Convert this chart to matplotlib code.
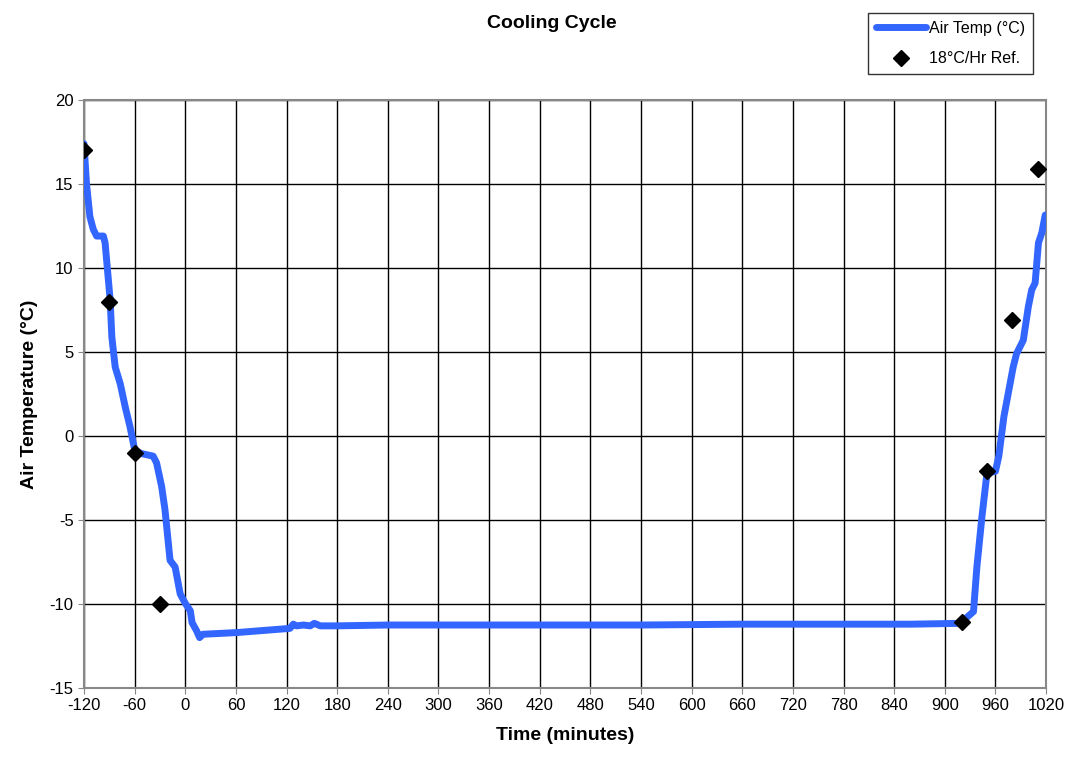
import numpy as np
import matplotlib.pyplot as plt

plt.rcParams['font.family'] = ['Liberation Sans', 'DejaVu Sans']
plt.rcParams['axes.unicode_minus'] = False

# Air temperature trace (minutes, deg C)
time_min = [-120, -117, -113, -109, -105, -97, -95, -89, -87, -83, -77,
            -71, -65.5, -59.6, -51.6, -38, -34, -28, -24, -18, -12, -6, 0, 6, 8,
            13.5, 17, 21, 61, 124, 128, 132, 140, 148, 153, 160, 180, 240, 300,
            420, 540, 660, 780, 860, 918, 934, 938, 944, 950, 960, 964, 970, 981,
            985, 993, 999, 1003, 1007, 1011, 1015, 1019]
air_temp = [17.4, 15.0, 13.05, 12.3, 11.9, 11.9, 11.5, 8.1, 5.9, 4.1, 3.1,
            1.7, 0.56, -0.9, -1.05, -1.2, -1.6, -3.0, -4.4, -7.4, -7.8, -9.4, -9.96,
            -10.4, -11.1, -11.6, -12.0, -11.8, -11.7, -11.45, -11.2, -11.3, -11.25,
            -11.3, -11.15, -11.3, -11.3, -11.25, -11.25, -11.25, -11.25, -11.2, -11.2,
            -11.2, -11.15, -10.45, -7.8, -4.8, -2.2, -2.1, -1.2, 1.15, 4.1, 4.9, 5.7,
            7.7, 8.7, 9.1, 11.5, 12.1, 13.15]

# 18 C/hr reference points
ref_time = [-120, -90, -60, -30, 920, 950, 980, 1010]
ref_temp = [17, 8, -1, -10, -11.1, -2.1, 6.9, 15.9]

fig = plt.figure(figsize=(10.74, 7.66), dpi=100)
ax = fig.add_axes([0.0782, 0.1018, 0.8958, 0.7677])

line, = ax.plot(time_min, air_temp, color='#3366ff', linewidth=5,
                solid_capstyle='round', solid_joinstyle='round', label='Air Temp (°C)', zorder=3)
pts, = ax.plot(ref_time, ref_temp, linestyle='none', marker='D', color='black',
               markersize=8, label='18°C/Hr Ref.', zorder=4)

ax.set_xlim(-120, 1020)
ax.set_ylim(-15, 20)
ax.set_xticks(np.arange(-120, 1021, 60))
ax.set_yticks(np.arange(-15, 21, 5))
ax.grid(True, color='black', linewidth=1.0)
ax.set_axisbelow(True)
for s in ax.spines.values():
    s.set_color('#888888')
    s.set_linewidth(1.5)
ax.tick_params(labelsize=12, length=4, color='#888888')

ax.set_xlabel('Time (minutes)', fontsize=14, fontweight='bold', labelpad=10)
ax.set_ylabel('Air Temperature (°C)', fontsize=14, fontweight='bold', labelpad=8)

fig.text(552 / 1074, 1 - 24 / 766, 'Cooling Cycle', ha='center', va='center',
         fontsize=14, fontweight='bold')

leg = fig.legend(handles=[line, pts], loc='upper right',
                 bbox_to_anchor=(1033 / 1074, 1 - 13 / 766), fontsize=11.5,
                 frameon=True, fancybox=False, edgecolor='black', handlelength=3.1,
                 handletextpad=0.2, borderpad=0.5, labelspacing=0.95, borderaxespad=0)
leg.get_frame().set_linewidth(1.0)

fig.savefig('out.png', dpi=100)
